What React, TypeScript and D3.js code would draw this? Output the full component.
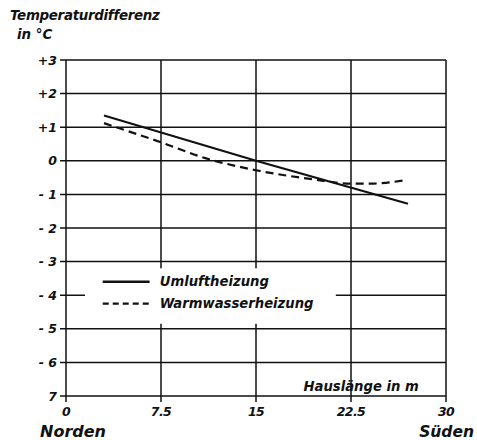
import React from 'react';
import * as d3 from 'd3';

// Werte
const yTicks = [3, 2, 1, 0, -1, -2, -3, -4, -5, -6, -7];
const yTickLabels = ['+3', '+2', '+1', '0', '- 1', '- 2', '- 3', '- 4', '- 5', '- 6', '7'];
const xTicks = [0, 7.5, 15, 22.5, 30];
const xTickLabels = ['0', '7.5', '15', '22.5', '30'];

const umluftX = [3, 15, 27];
const umluftY = [1.35, 0, -1.28];

const warmwasserX = [3, 7.5, 11, 15, 19.5, 22.5, 24, 26.8];
const warmwasserY = [1.12, 0.55, 0.08, -0.28, -0.55, -0.68, -0.68, -0.58];

const seriesNames = ['Umluftheizung', 'Warmwasserheizung'];

const FONT = '"DejaVu Sans", sans-serif';

export default function App() {
  const W = 477;
  const H = 440;
  const margin = { top: 60, right: 31, bottom: 44, left: 66 };
  const innerW = W - margin.left - margin.right;
  const innerH = H - margin.top - margin.bottom;

  const x = d3.scaleLinear().domain([0, 30]).range([0, innerW]);
  const y = d3.scaleLinear().domain([3, -7]).range([0, innerH]);

  const straight = d3.line<number>()
    .x((d, i) => x(umluftX[i]))
    .y((d) => y(d));

  const curved = d3.line<number>()
    .curve(d3.curveMonotoneX)
    .x((d, i) => x(warmwasserX[i]))
    .y((d) => y(d));

  const txt = { fontFamily: FONT, fontStyle: 'italic', fontWeight: 700, fill: '#111' } as const;

  // Legende (weißer Hintergrund unterbricht das Gitter)
  const legX = x(1.5);
  const legY = y(-3.2);

  return (
    <svg width={W} height={H} style={{ position: 'absolute', left: 0, top: 0, background: '#fff' }}>
      <text x={10} y={20} fontSize={13.4} {...txt} letterSpacing={-0.3}>Temperaturdifferenz</text>
      <text x={17} y={39} fontSize={13.4} {...txt}>in °C</text>

      <g transform={`translate(${margin.left},${margin.top})`}>
        {/* horizontale Gitterlinien */}
        {yTicks.map((t) => (
          <line key={`h${t}`} x1={-6} x2={innerW} y1={y(t)} y2={y(t)} stroke="#111" strokeWidth={1.5} />
        ))}
        {/* vertikale Gitterlinien */}
        {xTicks.map((t) => (
          <line key={`v${t}`} x1={x(t)} x2={x(t)} y1={0} y2={innerH + 6} stroke="#111" strokeWidth={1.5} />
        ))}

        <rect x={legX} y={legY} width={x(21.3) - legX} height={y(-4.85) - legY} fill="#fff" />

        {yTicks.map((t, i) => (
          <text key={`yl${t}`} x={-9} y={y(t)} dy="0.36em" textAnchor="end" fontSize={12.5} {...txt}>
            {yTickLabels[i]}
          </text>
        ))}
        {xTicks.map((t, i) => (
          <text key={`xl${t}`} x={x(t)} y={innerH + 20} textAnchor="middle" fontSize={12.5} {...txt} letterSpacing={-0.6}>
            {xTickLabels[i]}
          </text>
        ))}

        <path d={straight(umluftY) || ''} fill="none" stroke="#111" strokeWidth={2.2} />
        <path d={curved(warmwasserY) || ''} fill="none" stroke="#111" strokeWidth={2.2} strokeDasharray="8,5" />

        {/* Legende */}
        <line x1={x(2.9)} x2={x(6.6)} y1={y(-3.6)} y2={y(-3.6)} stroke="#111" strokeWidth={2.4} />
        <line x1={x(2.9)} x2={x(6.6)} y1={y(-4.25)} y2={y(-4.25)} stroke="#111" strokeWidth={2.4} strokeDasharray="6,4" />
        <text x={x(7.4)} y={y(-3.6)} dy="0.35em" fontSize={13.2} {...txt}>{seriesNames[0]}</text>
        <text x={x(7.4)} y={y(-4.25)} dy="0.35em" fontSize={13.2} {...txt}>{seriesNames[1]}</text>

        <text x={x(23.3)} y={y(-6.7)} dy="0.35em" textAnchor="middle" fontSize={13.2} {...txt}>Hauslänge in m</text>
      </g>

      <text x={40} y={437} fontSize={16} {...txt}>Norden</text>
      <text x={474} y={437} textAnchor="end" fontSize={15.5} {...txt}>Süden</text>
    </svg>
  );
}
